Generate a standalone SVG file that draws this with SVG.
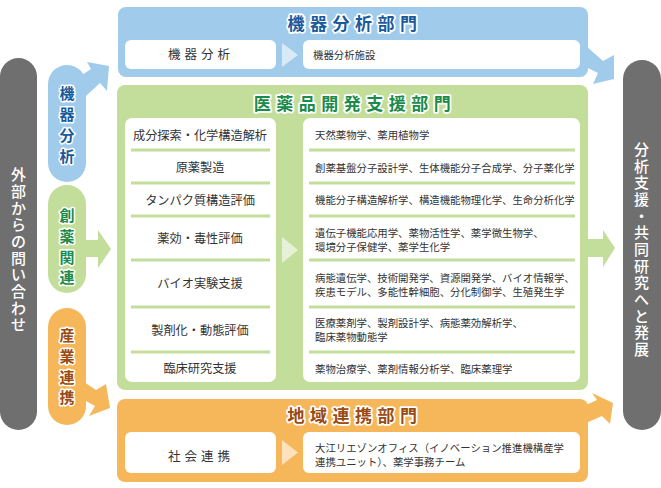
<svg xmlns="http://www.w3.org/2000/svg" width="661" height="488" viewBox="0 0 661 488">
<style>
.jp{font-family:"Noto Sans CJK JP","Noto Sans",sans-serif;}
.box{fill:#ffffff;}
.blue{fill:#a0cbeb;}
.green{fill:#c3dd9b;}
.orange{fill:#f6b75b;}
.gray{fill:#6f6f6f;}
.tri{fill:#ffffff;fill-opacity:0.6;}
.sep{stroke:#c3dd9b;stroke-width:3;}
.ttl{font-size:17px;font-weight:700;letter-spacing:5.5px;stroke:#ffffff;stroke-width:3.5px;paint-order:stroke;stroke-linejoin:round;text-anchor:middle;}
.ptx{font-size:15px;font-weight:700;stroke:#ffffff;stroke-width:3px;paint-order:stroke;stroke-linejoin:round;text-anchor:middle;}
.side{font-size:15px;font-weight:500;fill:#ffffff;text-anchor:middle;}
.lt{font-size:12.2px;fill:#333333;text-anchor:middle;}
.sp{font-size:12.5px;fill:#333333;text-anchor:middle;letter-spacing:4px;}
.rt{font-size:10.4px;fill:#333333;}
</style>

<g id="connectors">
  <path class="blue" d="M82,75 L91,69 L87,62 L109,66 L107,91 L100,83 L86,96 Z"/>
  <path class="green" d="M84,240 L98,240 L98,230 L111,249 L98,268 L98,257 L84,257 Z"/>
  <path class="orange" d="M84,382 L96,390 L106,384 L110,408 L89,416 L95,406 L84,400 Z"/>
  <path class="blue" d="M586,46 L603,61 L614,55 L614,79 L593,84 L598,73 L586,67 Z"/>
  <path class="green" d="M586,239 L603,239 L603,230 L615,248 L603,267 L603,257 L586,257 Z"/>
  <path class="orange" d="M586,405 L597,400 L592,393 L613,403 L610,424 L602,416 L586,423 Z"/>
</g>

<g id="left-inquiry">
  <rect class="gray" x="0" y="58" width="37" height="372" rx="18.5"/>
  <text class="jp side" x="18.5 18.5 18.5 18.5 18.5 18.5 18.5 18.5 18.5 18.5" y="180 197 213.5 230 246.5 263.5 280 297 313.5 330">外部からの問い合わせ</text>
</g>

<g id="right-development">
  <rect class="gray" x="623" y="60" width="38" height="370" rx="19"/>
  <text class="jp side" x="641.5 641.5 641.5 641.5 641.5 641.5 641.5 641.5 641.5 641.5 641.5 641.5 641.5" y="155 171.7 188.3 205 221.7 238.3 255 271.7 288.3 305 321.7 338.3 355">分析支援・共同研究へと発展</text>
</g>

<g id="pill-kiki">
  <rect class="blue" x="48" y="65" width="38" height="117" rx="19"/>
  <text class="jp ptx" fill="#1a5a9c" x="67 67 67 67" y="98.5 120 141 162">機器分析</text>
</g>

<g id="pill-souyaku">
  <rect class="green" x="48" y="185" width="38" height="108" rx="19"/>
  <text class="jp ptx" fill="#1c8a4a" x="67 67 67 67" y="220.5 242 262.5 283">創薬関連</text>
</g>

<g id="pill-sangyou">
  <rect class="orange" x="48" y="308" width="38" height="117" rx="19"/>
  <text class="jp ptx" fill="#9a4a12" x="67 67 67 67" y="340.5 361.5 382.5 403">産業連携</text>
</g>

<g id="dept-kiki">
  <rect class="blue" x="118" y="7" width="470" height="70" rx="8"/>
  <text class="jp ttl" fill="#1a5a9c" x="355" y="30">機器分析部門</text>
  <rect class="box" x="125" y="40" width="151" height="29" rx="6"/>
  <text class="jp sp" x="201" y="59">機器分析</text>
  <path class="tri" d="M282,43 L298,55 L282,67 Z"/>
  <rect class="box" x="303" y="40" width="277" height="29" rx="6"/>
  <text class="jp rt" x="313" y="59">機器分析施設</text>
</g>

<g id="dept-iyakuhin">
  <rect class="green" x="117" y="85" width="471" height="305" rx="8"/>
  <text class="jp ttl" fill="#1c8a4a" x="355" y="110">医薬品開発支援部門</text>
  <rect class="box" x="125" y="118" width="151" height="264" rx="7"/>
  <rect class="box" x="303" y="118" width="277" height="264" rx="7"/>
  <path class="tri" d="M282,237 L298,250 L282,263 Z"/>
  <g>
    <line class="sep" x1="131" y1="150" x2="270" y2="150"/>
    <line class="sep" x1="131" y1="183" x2="270" y2="183"/>
    <line class="sep" x1="131" y1="216" x2="270" y2="216"/>
    <line class="sep" x1="131" y1="260" x2="270" y2="260"/>
    <line class="sep" x1="131" y1="307" x2="270" y2="307"/>
    <line class="sep" x1="131" y1="352" x2="270" y2="352"/>
    <line class="sep" x1="309" y1="150" x2="575" y2="150"/>
    <line class="sep" x1="309" y1="183" x2="575" y2="183"/>
    <line class="sep" x1="309" y1="216" x2="575" y2="216"/>
    <line class="sep" x1="309" y1="260" x2="575" y2="260"/>
    <line class="sep" x1="309" y1="307" x2="575" y2="307"/>
    <line class="sep" x1="309" y1="352" x2="575" y2="352"/>
  </g>
  <text class="jp lt" x="200" y="139.5">成分探索・化学構造解析</text>
  <text class="jp lt" x="200" y="171.5">原薬製造</text>
  <text class="jp lt" x="200" y="204.5">タンパク質構造評価</text>
  <text class="jp lt" x="200" y="242.5">薬効・毒性評価</text>
  <text class="jp lt" x="200" y="288">バイオ実験支援</text>
  <text class="jp lt" x="200" y="334.5">製剤化・動態評価</text>
  <text class="jp lt" x="200" y="373">臨床研究支援</text>
  <text class="jp rt" x="315" y="139">天然薬物学、薬用植物学</text>
  <text class="jp rt" x="315" y="172">創薬基盤分子設計学、生体機能分子合成学、分子薬化学</text>
  <text class="jp rt" x="315" y="204">機能分子構造解析学、構造機能物理化学、生命分析化学</text>
  <text class="jp rt" x="315" y="237">遺伝子機能応用学、薬物活性学、薬学微生物学、</text>
  <text class="jp rt" x="315" y="251">環境分子保健学、薬学生化学</text>
  <text class="jp rt" x="315" y="282">病態遺伝学、技術開発学、資源開発学、バイオ情報学、</text>
  <text class="jp rt" x="315" y="296">疾患モデル、多能性幹細胞、分化制御学、生殖発生学</text>
  <text class="jp rt" x="315" y="327">医療薬剤学、製剤設計学、病態薬効解析学、</text>
  <text class="jp rt" x="315" y="341">臨床薬物動態学</text>
  <text class="jp rt" x="315" y="373">薬物治療学、薬剤情報分析学、臨床薬理学</text>
</g>

<g id="dept-chiiki">
  <rect class="orange" x="117" y="399" width="471" height="83" rx="8"/>
  <text class="jp ttl" fill="#9a4a12" x="355" y="422">地域連携部門</text>
  <rect class="box" x="125" y="432" width="151" height="41" rx="6"/>
  <text class="jp sp" x="201" y="461">社会連携</text>
  <path class="tri" d="M282,440 L298,452.5 L282,465 Z"/>
  <rect class="box" x="303" y="432" width="277" height="41" rx="6"/>
  <text class="jp rt" x="315" y="452">大江リエゾンオフィス（イノベーション推進機構産学</text>
  <text class="jp rt" x="315" y="466">連携ユニット）、薬学事務チーム</text>
</g>
</svg>
